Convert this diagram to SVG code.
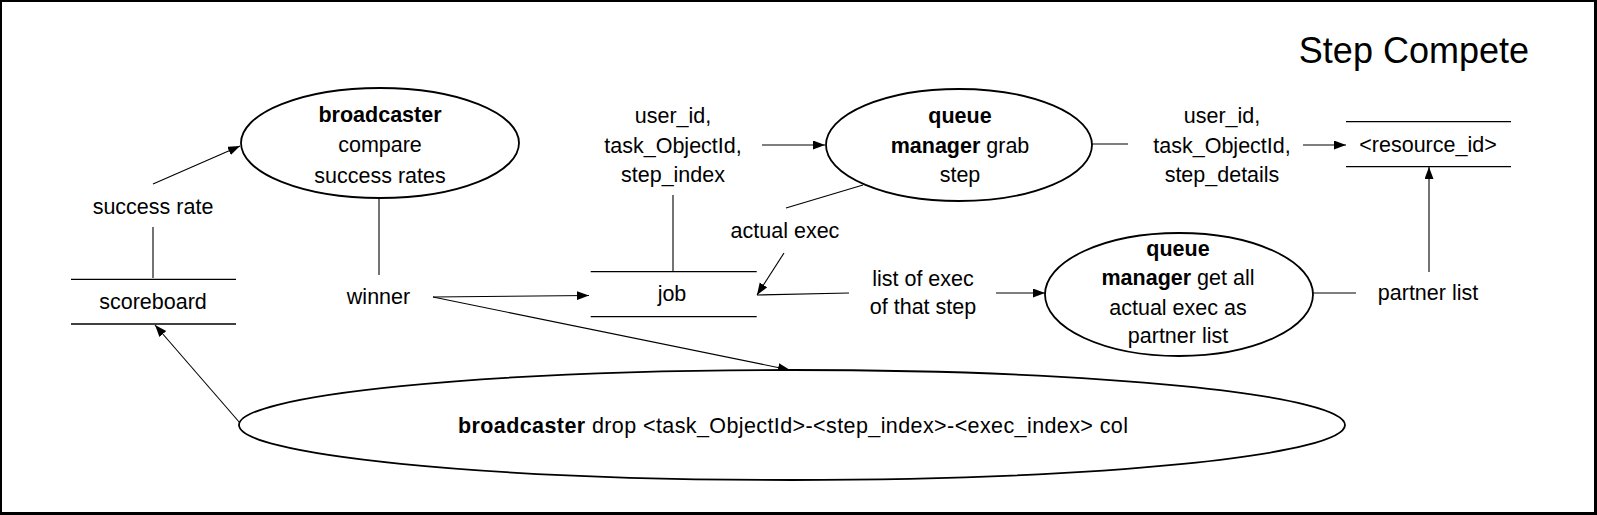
<svg xmlns="http://www.w3.org/2000/svg" width="1597" height="515" viewBox="0 0 1597 515">
<defs>
<marker id="arr" markerUnits="userSpaceOnUse" markerWidth="13" markerHeight="10" refX="12" refY="4.5" orient="auto">
<path d="M0,0 L12,4.5 L0,9 z" fill="#000"/>
</marker>
<style>
text{font-family:"Liberation Sans",Arial,sans-serif;font-size:21.5px;fill:#000;text-anchor:middle}
.b{font-weight:bold}
.proc{fill:#fff;stroke:#000;stroke-width:1.8}
.store{stroke:#000;stroke-width:1.3;fill:none}
.c line{stroke:#000;stroke-width:1.1;fill:none}
.a{marker-end:url(#arr)}
</style>
</defs>
<rect width="1597" height="515" fill="#000"/>
<rect x="2" y="2" width="1592" height="510" fill="#fff"/>
<text x="1529" y="63" style="font-size:36px;text-anchor:end">Step Compete</text>

<g class="c" id="connectors">
<line class="a" x1="153" y1="184" x2="240" y2="146"/>
<line x1="153" y1="278" x2="153" y2="227"/>
<line x1="379" y1="198" x2="379" y2="275"/>
<line class="a" x1="433" y1="297" x2="589" y2="295.5"/>
<line class="a" x1="433" y1="297" x2="790" y2="370"/>
<line class="a" x1="240" y1="423" x2="155" y2="325"/>
<line x1="673" y1="271" x2="673" y2="195"/>
<line class="a" x1="762" y1="145" x2="825" y2="145"/>
<line x1="863" y1="185" x2="786" y2="208"/>
<line class="a" x1="784" y1="253" x2="757" y2="295"/>
<line x1="757" y1="295" x2="849" y2="293"/>
<line class="a" x1="996" y1="293" x2="1045" y2="293"/>
<line x1="1313" y1="293" x2="1356" y2="293"/>
<line class="a" x1="1429" y1="272" x2="1429" y2="167"/>
<line x1="1092" y1="144" x2="1128" y2="144"/>
<line class="a" x1="1303" y1="145" x2="1346" y2="145"/>
</g>

<g id="broadcaster-compare">
<ellipse class="proc" cx="380" cy="143" rx="139" ry="55"/>
<text x="380" y="122" class="b">broadcaster</text>
<text x="380" y="152">compare</text>
<text x="380" y="183">success rates</text>
</g>

<g id="queue-grab">
<ellipse class="proc" cx="959" cy="145" rx="133" ry="56"/>
<text x="960" y="123" class="b">queue</text>
<text x="960" y="153"><tspan class="b">manager</tspan> grab</text>
<text x="960" y="182">step</text>
</g>

<g id="queue-partner">
<ellipse class="proc" cx="1179" cy="294.5" rx="134" ry="61.5"/>
<text x="1178" y="256" class="b">queue</text>
<text x="1178" y="285"><tspan class="b">manager</tspan> get all</text>
<text x="1178" y="315">actual exec as</text>
<text x="1178" y="343">partner list</text>
</g>

<g id="broadcaster-drop">
<ellipse class="proc" cx="792" cy="425" rx="553" ry="55"/>
<text x="793" y="433" textLength="670" lengthAdjust="spacing"><tspan class="b">broadcaster</tspan> drop &lt;task_ObjectId&gt;-&lt;step_index&gt;-&lt;exec_index&gt; col</text>
</g>

<g id="scoreboard">
<line class="store" x1="71" y1="279.3" x2="236" y2="279.3"/>
<line class="store" x1="71" y1="324" x2="236" y2="324"/>
<text x="153" y="309">scoreboard</text>
</g>

<g id="job">
<line class="store" x1="590.7" y1="271.7" x2="756.7" y2="271.7"/>
<line class="store" x1="590.7" y1="316.7" x2="756.7" y2="316.7"/>
<text x="672" y="301">job</text>
</g>

<g id="resource">
<line class="store" x1="1346" y1="121.7" x2="1511" y2="121.7"/>
<line class="store" x1="1346" y1="166.7" x2="1511" y2="166.7"/>
<text x="1428" y="152">&lt;resource_id&gt;</text>
</g>

<g id="labels">
<text x="153" y="214">success rate</text>
<text x="378.5" y="304">winner</text>
<text x="673" y="123">user_id,</text>
<text x="673" y="153">task_ObjectId,</text>
<text x="673" y="182">step_index</text>
<text x="1222" y="123">user_id,</text>
<text x="1222" y="153">task_ObjectId,</text>
<text x="1222" y="182">step_details</text>
<text x="785" y="238">actual exec</text>
<text x="923" y="286">list of exec</text>
<text x="923" y="314">of that step</text>
<text x="1428" y="300">partner list</text>
</g>
</svg>
